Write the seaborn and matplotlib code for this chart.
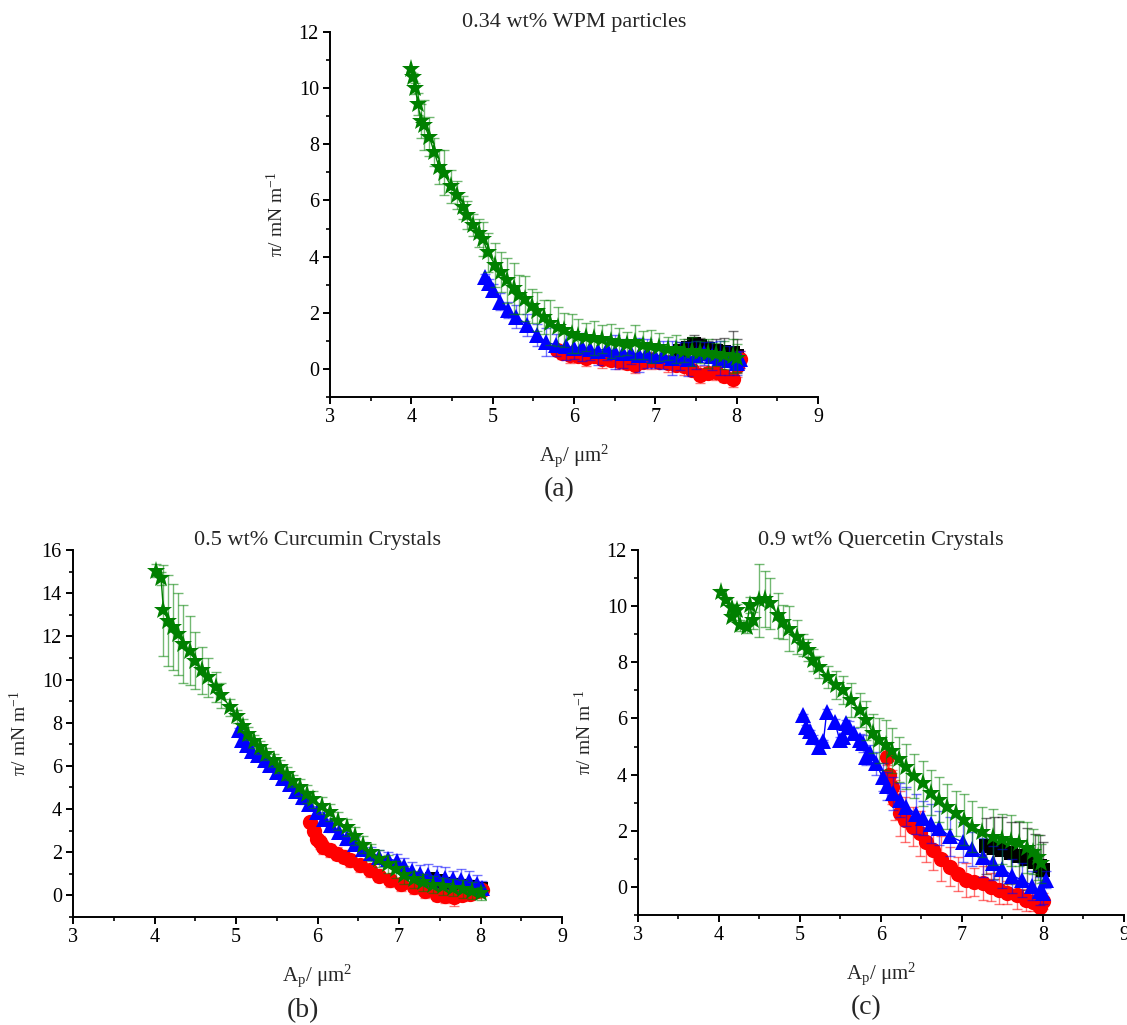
import matplotlib
matplotlib.use("Agg")
import pandas as pd
import matplotlib.pyplot as plt
import seaborn as sns
from matplotlib.ticker import MultipleLocator

# ---- panel (a): 0.34 wt% WPM particles ----
a_green_x = [4.00, 4.02, 4.05, 4.08, 4.12, 4.16, 4.22, 4.28, 4.34, 4.40, 4.49, 4.56, 4.63, 4.68,
             4.76, 4.83, 4.88, 4.94, 5.03, 5.10, 5.18, 5.26, 5.33, 5.40, 5.48, 5.55, 5.63, 5.71,
             5.80, 5.88, 5.97, 6.05, 6.15, 6.25, 6.35, 6.45, 6.55, 6.65, 6.75, 6.85, 6.95, 7.05,
             7.15, 7.25, 7.35, 7.45, 7.55, 7.65, 7.75, 7.85, 7.95, 8.00]
a_green_y = [10.67, 10.40, 10.00, 9.43, 8.83, 8.69, 8.27, 7.74, 7.20, 6.98, 6.50, 6.20, 5.75, 5.48,
             5.13, 4.85, 4.62, 4.15, 3.70, 3.45, 3.15, 2.87, 2.65, 2.50, 2.25, 2.05, 1.85, 1.65,
             1.50, 1.38, 1.25, 1.18, 1.15, 1.10, 1.05, 1.00, 0.95, 0.90, 0.95, 0.85, 0.80, 0.78,
             0.72, 0.70, 0.65, 0.62, 0.60, 0.55, 0.52, 0.50, 0.45, 0.40]
a_green_e = [0.10, 0.15, 0.20, 0.40, 0.60, 0.90, 0.70, 0.50, 0.60, 0.80, 0.60, 0.50, 0.40, 0.50,
             0.40, 0.50, 0.60, 0.70, 0.80, 0.70, 0.80, 0.90, 0.70, 0.80, 0.60, 0.70, 0.60, 0.80,
             0.70, 0.60, 0.70, 0.60, 0.50, 0.60, 0.50, 0.60, 0.50, 0.40, 0.60, 0.50, 0.60, 0.50,
             0.40, 0.50, 0.40, 0.50, 0.40, 0.50, 0.40, 0.50, 0.60, 0.50]
a_blue_x = [4.91, 4.95, 5.01, 5.09, 5.19, 5.29, 5.42, 5.54, 5.66, 5.78, 5.90, 6.00, 6.10, 6.20,
            6.30, 6.40, 6.50, 6.60, 6.70, 6.80, 6.90, 7.00, 7.10, 7.20, 7.30, 7.40, 7.50, 7.60,
            7.70, 7.80, 7.90, 8.00, 8.04]
a_blue_y = [3.29, 3.05, 2.81, 2.40, 2.10, 1.86, 1.57, 1.21, 0.95, 0.85, 0.80, 0.75, 0.78, 0.70,
            0.65, 0.72, 0.60, 0.55, 0.58, 0.50, 0.55, 0.45, 0.50, 0.40, 0.45, 0.35, 0.50, 0.55,
            0.45, 0.40, 0.30, 0.20, 0.35]
a_blue_e = [0.10, 0.15, 0.20, 0.30, 0.30, 0.40, 0.40, 0.40, 0.50, 0.40, 0.50, 0.40, 0.50, 0.40,
            0.50, 0.40, 0.60, 0.50, 0.40, 0.60, 0.50, 0.40, 0.50, 0.60, 0.50, 0.60, 0.50, 0.40,
            0.50, 0.60, 0.50, 0.40, 0.30]
a_red_x = [5.79, 5.85, 5.95, 6.05, 6.15, 6.25, 6.35, 6.45, 6.55, 6.65, 6.75, 6.85, 6.95, 7.05,
           7.15, 7.25, 7.35, 7.45, 7.55, 7.65, 7.75, 7.85, 7.95, 8.00, 8.04]
a_red_y = [0.68, 0.55, 0.50, 0.45, 0.40, 0.45, 0.35, 0.30, 0.28, 0.20, 0.15, 0.25, 0.30, 0.25,
           0.20, 0.15, 0.10, -0.05, -0.20, -0.15, -0.10, -0.25, -0.35, 0.10, 0.35]
a_red_e = [0.20, 0.20, 0.30, 0.20, 0.30, 0.20, 0.30, 0.20, 0.30, 0.20, 0.30, 0.20, 0.30, 0.20,
           0.30, 0.20, 0.30, 0.20, 0.30, 0.20, 0.30, 0.20, 0.30, 0.40, 0.30]
a_black_x = [7.30, 7.40, 7.47, 7.55, 7.65, 7.75, 7.85, 7.95, 8.00]
a_black_y = [0.65, 0.75, 0.90, 0.80, 0.70, 0.65, 0.60, 0.55, 0.45]
a_black_e = [0.30, 0.30, 0.30, 0.30, 0.30, 0.40, 0.50, 0.80, 0.60]

# ---- panel (b): 0.5 wt% Curcumin Crystals ----
b_green_x = [4.02, 4.08, 4.11, 4.17, 4.23, 4.29, 4.35, 4.43, 4.50, 4.58, 4.66, 4.76, 4.82, 4.93,
             5.01, 5.08, 5.15, 5.22, 5.29, 5.37, 5.46, 5.54, 5.62, 5.70, 5.79, 5.87, 5.95, 6.05,
             6.15, 6.25, 6.36, 6.46, 6.56, 6.66, 6.76, 6.86, 6.96, 7.06, 7.18, 7.30, 7.42, 7.54,
             7.66, 7.78, 7.90, 8.00]
b_green_y = [15.05, 14.70, 13.20, 12.73, 12.42, 12.10, 11.65, 11.34, 10.88, 10.42, 10.10, 9.64,
             9.26, 8.72, 8.30, 7.85, 7.48, 7.15, 6.87, 6.55, 6.25, 5.95, 5.63, 5.30, 5.00, 4.70,
             4.45, 4.15, 3.85, 3.45, 3.15, 2.75, 2.35, 2.00, 1.70, 1.45, 1.20, 0.95, 0.75, 0.60,
             0.50, 0.42, 0.35, 0.30, 0.22, 0.10]
b_green_e = [0.30, 0.30, 2.10, 2.10, 2.00, 1.90, 1.80, 1.60, 1.30, 1.10, 0.90, 0.70, 0.60, 0.40,
             0.30, 0.30, 0.30, 0.30, 0.30, 0.30, 0.30, 0.30, 0.30, 0.30, 0.40, 0.40, 0.40, 0.40,
             0.40, 0.40, 0.40, 0.40, 0.40, 0.40, 0.40, 0.40, 0.40, 0.40, 0.40, 0.40, 0.40, 0.40,
             0.40, 0.40, 0.40, 0.30]
b_blue_x = [5.04, 5.07, 5.13, 5.20, 5.27, 5.35, 5.42, 5.50, 5.58, 5.66, 5.74, 5.82, 5.90, 5.99,
            6.08, 6.17, 6.26, 6.36, 6.46, 6.56, 6.66, 6.76, 6.86, 6.97, 7.06, 7.16, 7.26, 7.36,
            7.46, 7.56, 7.66, 7.76, 7.86, 7.96, 8.02]
b_blue_y = [7.64, 7.18, 6.95, 6.70, 6.50, 6.25, 6.05, 5.70, 5.45, 5.15, 4.85, 4.55, 4.25, 3.85,
            3.55, 3.25, 2.95, 2.65, 2.40, 2.15, 1.95, 1.80, 1.70, 1.60, 1.35, 1.15, 1.00, 0.95,
            0.85, 0.80, 0.75, 0.70, 0.65, 0.55, 0.35]
b_blue_e = [0.10, 0.15, 0.15, 0.20, 0.20, 0.20, 0.20, 0.25, 0.25, 0.25, 0.30, 0.30, 0.30, 0.30,
            0.30, 0.30, 0.30, 0.30, 0.30, 0.30, 0.30, 0.30, 0.30, 0.30, 0.40, 0.40, 0.40, 0.50,
            0.50, 0.50, 0.40, 0.50, 0.50, 0.40, 0.30]
b_red_x = [5.91, 5.96, 5.99, 6.03, 6.07, 6.15, 6.24, 6.32, 6.40, 6.52, 6.64, 6.76, 6.89, 7.03,
           7.18, 7.32, 7.46, 7.56, 7.67, 7.77, 7.87, 7.96, 8.02]
b_red_y = [3.39, 3.00, 2.62, 2.45, 2.24, 2.10, 1.93, 1.78, 1.62, 1.40, 1.16, 0.92, 0.69, 0.52,
           0.38, 0.20, 0.02, -0.05, -0.08, 0.02, 0.08, 0.18, 0.25]
b_red_e = [0.20, 0.20, 0.20, 0.30, 0.30, 0.30, 0.30, 0.30, 0.30, 0.30, 0.30, 0.30, 0.30, 0.30,
           0.30, 0.30, 0.30, 0.30, 0.40, 0.30, 0.30, 0.30, 0.30]
b_black_x = [7.30, 7.40, 7.50, 7.60, 7.70, 7.80, 7.90, 8.00]
b_black_y = [0.65, 0.75, 0.65, 0.55, 0.50, 0.45, 0.40, 0.30]
b_black_e = [0.30, 0.30, 0.30, 0.30, 0.30, 0.30, 0.30, 0.30]

# ---- panel (c): 0.9 wt% Quercetin Crystals ----
c_green_x = [4.03, 4.09, 4.16, 4.16, 4.22, 4.26, 4.34, 4.38, 4.42, 4.50, 4.57, 4.63, 4.73, 4.79,
             4.87, 4.96, 5.04, 5.10, 5.16, 5.24, 5.35, 5.45, 5.53, 5.63, 5.74, 5.82, 5.90, 5.98,
             6.06, 6.14, 6.22, 6.31, 6.41, 6.52, 6.62, 6.72, 6.82, 6.93, 7.03, 7.13, 7.25, 7.38,
             7.50, 7.60, 7.70, 7.80, 7.88, 7.94, 7.98]
c_green_y = [10.51, 10.21, 9.92, 9.62, 9.86, 9.32, 9.26, 10.04, 9.50, 10.21, 10.27, 10.10, 9.68,
             9.44, 9.20, 8.91, 8.61, 8.43, 8.08, 7.84, 7.48, 7.19, 7.01, 6.65, 6.30, 5.94, 5.47,
             5.23, 5.05, 4.85, 4.55, 4.28, 3.95, 3.69, 3.35, 3.10, 2.85, 2.62, 2.40, 2.15, 1.95,
             1.79, 1.70, 1.65, 1.55, 1.40, 1.25, 1.05, 0.84]
c_green_e = [0.10, 0.10, 0.15, 0.15, 0.20, 0.20, 0.20, 0.30, 0.30, 1.30, 1.00, 0.90, 0.80, 0.60,
             0.80, 0.60, 0.40, 0.40, 0.40, 0.40, 0.40, 0.50, 0.50, 0.60, 0.60, 0.70, 0.70, 0.80,
             0.90, 0.80, 0.80, 0.80, 0.80, 0.80, 0.80, 0.80, 0.80, 0.80, 0.90, 0.90, 0.90, 1.00,
             0.90, 0.90, 0.80, 0.90, 0.80, 0.80, 0.70]
c_blue_x = [5.04, 5.08, 5.12, 5.16, 5.24, 5.29, 5.33, 5.43, 5.49, 5.53, 5.57, 5.61, 5.67, 5.74,
            5.78, 5.82, 5.86, 5.94, 6.02, 6.08, 6.15, 6.23, 6.31, 6.43, 6.52, 6.62, 6.72, 6.85,
            7.01, 7.13, 7.26, 7.38, 7.50, 7.62, 7.74, 7.86, 7.96, 8.00, 8.04]
c_blue_y = [6.12, 5.70, 5.55, 5.35, 4.99, 5.20, 6.24, 5.88, 5.23, 5.35, 5.83, 5.70, 5.47, 5.23,
            5.11, 4.64, 4.76, 4.40, 3.90, 3.60, 3.33, 3.10, 2.86, 2.60, 2.45, 2.25, 2.10, 1.80,
            1.60, 1.35, 1.05, 0.85, 0.65, 0.40, 0.25, 0.05, -0.15, -0.22, 0.25]
c_blue_e = [0.05, 0.05, 0.05, 0.05, 0.05, 0.05, 0.10, 0.10, 0.10, 0.10, 0.10, 0.20, 0.20, 0.20,
            0.30, 0.30, 0.30, 0.40, 0.50, 0.50, 0.60, 0.60, 0.70, 0.70, 0.60, 0.70, 0.60, 0.70,
            0.70, 0.60, 0.70, 0.60, 0.70, 0.60, 0.60, 0.50, 0.50, 0.40, 0.30]
c_red_x = [6.07, 6.10, 6.13, 6.17, 6.23, 6.30, 6.39, 6.48, 6.56, 6.64, 6.74, 6.85, 6.95, 7.05,
           7.15, 7.26, 7.36, 7.46, 7.56, 7.68, 7.79, 7.88, 7.96, 8.00]
c_red_y = [4.64, 4.00, 3.57, 3.10, 2.62, 2.40, 2.15, 1.91, 1.60, 1.32, 1.00, 0.72, 0.45, 0.25,
           0.18, 0.13, 0.00, -0.11, -0.20, -0.30, -0.46, -0.55, -0.70, -0.50]
c_red_e = [0.30, 0.50, 0.60, 0.70, 0.80, 0.80, 0.70, 0.80, 0.70, 0.70, 0.80, 0.70, 0.60, 0.60,
           0.50, 0.60, 0.50, 0.50, 0.40, 0.50, 0.40, 0.30, 0.30, 0.30]
c_black_x = [7.30, 7.40, 7.50, 7.60, 7.70, 7.80, 7.90, 7.96, 8.00]
c_black_y = [1.45, 1.40, 1.30, 1.20, 1.10, 1.00, 0.90, 0.75, 0.60]
c_black_e = [1.00, 1.10, 1.20, 1.10, 1.20, 1.10, 1.00, 1.10, 1.00]

sns.set_theme(style="ticks")
plt.rcParams["font.family"] = ["Liberation Serif", "DejaVu Serif"]
plt.rcParams["mathtext.fontset"] = "custom"
plt.rcParams["mathtext.rm"] = "Liberation Serif"
plt.rcParams["mathtext.it"] = "Liberation Serif:italic"

STYLES = {
    "black": ("#000000", "s", 10),
    "red": ("#ff0000", "o", 11),
    "blue": ("#0000ff", "^", 12),
    "green": ("#008000", "*", 14),
}


def draw_panel(ax, series, title, tag, ymax):
    for name, x, y, e in series:
        color, marker, ms = STYLES[name]
        df = pd.DataFrame({"x": x, "y": y, "e": e})
        sns.lineplot(data=df, x="x", y="y", ax=ax, color=color, marker=marker,
                     markersize=ms, markeredgewidth=0, linewidth=1.0,
                     sort=False, estimator=None)
        ax.errorbar(df["x"], df["y"], yerr=df["e"], fmt="none", ecolor=color,
                    elinewidth=1.0, capsize=3.5, capthick=1.0, alpha=0.55)

    ax.set_xlim(3, 9)
    ax.xaxis.set_major_locator(MultipleLocator(1))
    ax.xaxis.set_minor_locator(MultipleLocator(0.5))
    ax.set_yticks(range(0, ymax + 1, 2))
    ax.yaxis.set_minor_locator(MultipleLocator(1))
    ax.set_ylim(-1, ymax)
    sns.despine(ax=ax)
    for side in ("left", "bottom"):
        ax.spines[side].set_linewidth(1.4)
        ax.spines[side].set_color("black")
    ax.tick_params(which="major", direction="out", length=5, width=1.4,
                   labelsize=14.5, pad=3, colors="black")
    ax.tick_params(which="minor", direction="out", length=3, width=1.2, colors="black")

    ax.set_title(title, fontsize=16, pad=1)
    ax.set_xlabel(r"A$_{\mathregular{p}}$/ μm$^{\mathregular{2}}$", fontsize=15, labelpad=11)
    ax.set_ylabel(r"π/ mN m$^{\mathregular{-1}}$", fontsize=14, labelpad=8)
    ax.text(0.47, -0.255, tag, transform=ax.transAxes, fontsize=20,
            ha="center", va="center")


fig = plt.figure(figsize=(11.27, 10.25), dpi=100)
ax_a = fig.add_axes([0.2928, 0.6127, 0.4330, 0.3561])
ax_b = fig.add_axes([0.0648, 0.1054, 0.4339, 0.3580])
ax_c = fig.add_axes([0.5661, 0.1073, 0.4312, 0.3561])

draw_panel(ax_a, [("black", a_black_x, a_black_y, a_black_e),
                  ("red", a_red_x, a_red_y, a_red_e),
                  ("blue", a_blue_x, a_blue_y, a_blue_e),
                  ("green", a_green_x, a_green_y, a_green_e)],
           "0.34 wt% WPM particles", "(a)", 12)
draw_panel(ax_b, [("black", b_black_x, b_black_y, b_black_e),
                  ("red", b_red_x, b_red_y, b_red_e),
                  ("blue", b_blue_x, b_blue_y, b_blue_e),
                  ("green", b_green_x, b_green_y, b_green_e)],
           "0.5 wt% Curcumin Crystals", "(b)", 16)
draw_panel(ax_c, [("black", c_black_x, c_black_y, c_black_e),
                  ("red", c_red_x, c_red_y, c_red_e),
                  ("blue", c_blue_x, c_blue_y, c_blue_e),
                  ("green", c_green_x, c_green_y, c_green_e)],
           "0.9 wt% Quercetin Crystals", "(c)", 12)

fig.savefig("out.png", dpi=100)
